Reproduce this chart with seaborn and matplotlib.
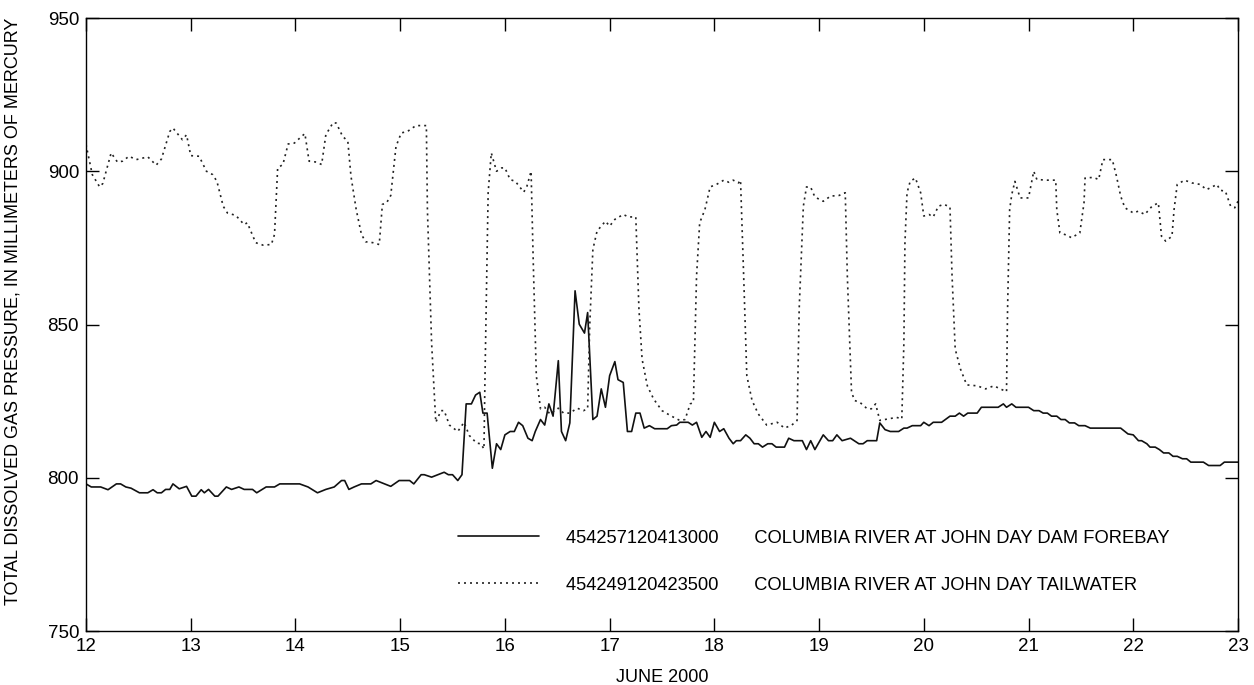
import pandas as pd
import numpy as np
import matplotlib
matplotlib.use("Agg")
import matplotlib.pyplot as plt
import seaborn as sns

# === Data (day of June 2000, pressure in mm Hg) ===
forebay_day = [12.00, 12.05, 12.14, 12.21, 12.29, 12.33, 12.38, 12.43, 12.51, 12.59,
               12.64, 12.68, 12.72, 12.76, 12.80, 12.83, 12.89, 12.96, 13.01, 13.05,
               13.10, 13.13, 13.17, 13.23, 13.26, 13.34, 13.39, 13.46, 13.51, 13.59,
               13.63, 13.72, 13.80, 13.85, 14.04, 14.12, 14.21, 14.29, 14.37, 14.44,
               14.47, 14.51, 14.56, 14.63, 14.72, 14.77, 14.85, 14.91, 14.99, 15.09,
               15.13, 15.20, 15.23, 15.30, 15.36, 15.42, 15.46, 15.50, 15.55, 15.59,
               15.63, 15.68, 15.72, 15.76, 15.79, 15.83, 15.88, 15.92, 15.96, 16.00,
               16.05, 16.09, 16.13, 16.17, 16.22, 16.26, 16.29, 16.34, 16.38, 16.42,
               16.46, 16.51, 16.54, 16.58, 16.62, 16.67, 16.71, 16.76, 16.79, 16.84,
               16.88, 16.92, 16.96, 17.00, 17.05, 17.08, 17.13, 17.17, 17.21, 17.25,
               17.29, 17.33, 17.38, 17.43, 17.55, 17.59, 17.64, 17.67, 17.75, 17.79,
               17.83, 17.88, 17.92, 17.96, 18.00, 18.05, 18.09, 18.14, 18.18, 18.21,
               18.25, 18.30, 18.34, 18.38, 18.42, 18.46, 18.51, 18.55, 18.59, 18.67,
               18.71, 18.76, 18.84, 18.88, 18.92, 18.96, 19.04, 19.09, 19.13, 19.17,
               19.22, 19.30, 19.38, 19.42, 19.46, 19.55, 19.58, 19.63, 19.68, 19.76,
               19.81, 19.84, 19.89, 19.97, 20.00, 20.05, 20.09, 20.17, 20.25, 20.30,
               20.34, 20.38, 20.42, 20.51, 20.55, 20.71, 20.76, 20.79, 20.84, 20.88,
               21.00, 21.05, 21.10, 21.14, 21.18, 21.22, 21.27, 21.31, 21.35, 21.39,
               21.44, 21.48, 21.54, 21.59, 21.88, 21.95, 22.00, 22.05, 22.08, 22.13,
               22.16, 22.21, 22.25, 22.29, 22.34, 22.38, 22.42, 22.47, 22.51, 22.55,
               22.67, 22.72, 22.83, 22.87, 23.00]
forebay_val = [798.0, 797.0, 797.0, 796.1, 798.0, 798.0, 797.0, 796.6, 795.1, 795.1,
               796.1, 795.1, 795.1, 796.2, 796.2, 798.0, 796.4, 797.2, 794.0, 794.0,
               796.1, 795.1, 796.2, 794.0, 794.0, 797.0, 796.2, 797.0, 796.2, 796.2,
               795.1, 797.0, 797.0, 798.0, 798.0, 797.0, 795.1, 796.2, 797.0, 799.1,
               799.1, 796.2, 797.0, 798.0, 798.0, 799.1, 798.0, 797.2, 799.1, 799.1,
               798.0, 801.0, 801.0, 800.2, 801.0, 801.8, 801.0, 801.0, 799.1, 801.0,
               824.1, 824.1, 827.0, 827.9, 821.1, 821.1, 803.1, 811.1, 809.2, 814.0,
               815.1, 815.1, 818.1, 817.0, 812.9, 812.1, 815.1, 819.0, 817.2, 824.1,
               820.1, 838.2, 815.1, 812.1, 817.9, 861.0, 850.1, 847.2, 853.9, 819.0,
               820.1, 829.0, 823.0, 833.3, 837.9, 832.0, 831.1, 815.1, 815.1, 821.1,
               821.1, 816.2, 817.0, 816.0, 816.0, 817.0, 817.2, 818.1, 818.1, 817.2,
               818.1, 813.2, 815.1, 813.2, 818.1, 815.1, 816.0, 812.9, 811.1, 812.1,
               812.1, 814.0, 812.9, 811.1, 811.1, 810.0, 811.1, 811.1, 810.0, 810.0,
               812.9, 812.1, 812.1, 809.2, 812.1, 809.2, 814.0, 812.1, 812.1, 814.0,
               812.1, 812.9, 811.1, 811.1, 812.1, 812.1, 817.9, 815.7, 815.1, 815.1,
               816.2, 816.2, 817.0, 817.0, 818.1, 817.0, 818.1, 818.1, 820.1, 820.1,
               821.1, 820.1, 821.1, 821.1, 823.0, 823.0, 824.1, 823.0, 824.1, 823.0,
               823.0, 821.9, 821.9, 821.1, 821.1, 820.1, 820.1, 819.0, 819.0, 817.9,
               817.9, 817.0, 817.0, 816.2, 816.2, 814.3, 814.0, 812.1, 812.1, 811.1,
               810.0, 810.0, 809.2, 808.1, 808.1, 807.0, 807.0, 806.2, 806.2, 805.1,
               805.1, 804.0, 804.0, 805.1, 805.1]

tailwater_day = [12.00, 12.06, 12.13, 12.16, 12.24, 12.30, 12.35, 12.41, 12.48, 12.59,
                 12.67, 12.72, 12.80, 12.83, 12.92, 12.96, 13.00, 13.08, 13.15, 13.21,
                 13.25, 13.31, 13.35, 13.43, 13.51, 13.54, 13.62, 13.69, 13.77, 13.80,
                 13.83, 13.88, 13.93, 13.99, 14.04, 14.09, 14.13, 14.20, 14.25, 14.29,
                 14.36, 14.39, 14.45, 14.50, 14.53, 14.58, 14.63, 14.67, 14.74, 14.80,
                 14.83, 14.87, 14.91, 14.96, 15.01, 15.07, 15.15, 15.25, 15.26, 15.30,
                 15.34, 15.39, 15.42, 15.47, 15.55, 15.61, 15.66, 15.73, 15.77, 15.80,
                 15.81, 15.84, 15.87, 15.92, 15.97, 16.00, 16.05, 16.10, 16.18, 16.21,
                 16.25, 16.27, 16.30, 16.34, 16.38, 16.43, 16.51, 16.56, 16.62, 16.69,
                 16.75, 16.79, 16.81, 16.84, 16.88, 16.96, 17.00, 17.05, 17.13, 17.18,
                 17.25, 17.28, 17.31, 17.36, 17.42, 17.50, 17.58, 17.67, 17.72, 17.77,
                 17.80, 17.83, 17.86, 17.91, 17.96, 18.02, 18.09, 18.14, 18.18, 18.23,
                 18.25, 18.28, 18.31, 18.36, 18.42, 18.50, 18.60, 18.67, 18.74, 18.79,
                 18.81, 18.85, 18.88, 18.92, 18.96, 19.04, 19.11, 19.19, 19.25, 19.27,
                 19.31, 19.34, 19.39, 19.46, 19.50, 19.54, 19.58, 19.66, 19.74, 19.79,
                 19.81, 19.82, 19.84, 19.87, 19.92, 19.97, 20.00, 20.05, 20.09, 20.14,
                 20.19, 20.25, 20.27, 20.30, 20.35, 20.41, 20.51, 20.59, 20.67, 20.73,
                 20.79, 20.80, 20.82, 20.84, 20.87, 20.92, 21.00, 21.05, 21.08, 21.18,
                 21.26, 21.27, 21.30, 21.37, 21.41, 21.49, 21.53, 21.54, 21.62, 21.67,
                 21.71, 21.80, 21.84, 21.88, 21.92, 22.00, 22.05, 22.11, 22.18, 22.24,
                 22.27, 22.31, 22.37, 22.39, 22.42, 22.49, 22.56, 22.64, 22.70, 22.80,
                 22.83, 22.88, 22.93, 22.97, 23.00]
tailwater_val = [908.7, 898.9, 894.9, 896.0, 906.0, 903.0, 903.3, 904.9, 903.8, 904.7,
                 902.0, 904.0, 913.0, 914.1, 910.3, 911.9, 905.1, 904.9, 900.0, 898.9,
                 896.7, 888.6, 886.4, 885.6, 882.6, 883.2, 876.7, 875.9, 876.1, 879.4,
                 901.1, 902.2, 908.9, 909.2, 910.8, 912.3, 903.3, 903.0, 902.2, 911.9,
                 915.9, 915.7, 911.4, 909.8, 898.4, 887.5, 879.4, 877.0, 876.7, 876.1,
                 889.2, 889.7, 892.1, 908.1, 912.5, 913.0, 914.9, 914.9, 887.5, 844.0,
                 818.1, 821.9, 821.9, 817.2, 815.1, 818.1, 813.8, 811.3, 811.1, 809.4,
                 833.3, 893.0, 906.0, 900.0, 901.1, 901.1, 897.3, 896.7, 893.2, 895.1,
                 900.0, 871.3, 833.3, 822.5, 823.0, 820.8, 822.7, 821.1, 821.1, 822.7,
                 821.9, 822.5, 849.6, 874.5, 880.5, 883.7, 882.1, 884.3, 885.9, 885.1,
                 885.1, 855.0, 838.7, 830.0, 825.7, 821.9, 820.3, 818.7, 819.0, 824.1,
                 824.6, 865.8, 883.2, 887.5, 894.9, 895.7, 897.1, 896.4, 897.1, 896.2,
                 897.1, 865.8, 833.3, 825.2, 820.8, 817.2, 818.1, 816.2, 817.2, 818.7,
                 855.0, 888.6, 894.9, 894.8, 891.6, 890.2, 891.9, 892.1, 893.0, 865.8,
                 827.9, 825.2, 824.6, 822.5, 822.5, 824.1, 818.7, 819.2, 819.7, 819.2,
                 844.1, 876.7, 893.0, 896.7, 897.8, 893.0, 885.4, 885.9, 885.1, 888.6,
                 889.2, 888.4, 865.8, 842.0, 835.5, 830.3, 830.0, 829.0, 830.0, 829.0,
                 828.1, 855.0, 887.5, 892.4, 896.7, 891.3, 891.3, 900.0, 897.3, 897.1,
                 897.1, 887.5, 879.9, 879.1, 878.3, 879.9, 889.7, 897.8, 898.0, 897.3,
                 903.8, 903.8, 898.4, 891.9, 888.1, 886.4, 887.0, 885.9, 888.6, 889.7,
                 878.8, 877.2, 878.8, 887.5, 895.7, 897.1, 896.2, 895.7, 894.0, 895.7,
                 893.8, 893.5, 888.6, 888.1, 890.2]

station_ids = ["454257120413000", "454249120423500"]
station_names = ["COLUMBIA RIVER AT JOHN DAY DAM FOREBAY",
                 "COLUMBIA RIVER AT JOHN DAY TAILWATER"]
x_ticks = list(range(12, 24))
y_ticks = [750, 800, 850, 900, 950]

# === Build table ===
gap = " " * 7
df = pd.concat([
    pd.DataFrame({"day": forebay_day, "pressure": forebay_val,
                  "station": f"{station_ids[0]}{gap}{station_names[0]}"}),
    pd.DataFrame({"day": tailwater_day, "pressure": tailwater_val,
                  "station": f"{station_ids[1]}{gap}{station_names[1]}"}),
], ignore_index=True)

sns.set_theme(style="ticks")
plt.rcParams["font.family"] = ["Liberation Sans", "DejaVu Sans"]
plt.rcParams["text.color"] = "black"
plt.rcParams["axes.labelcolor"] = "black"

fig = plt.figure(figsize=(12.54, 6.85), dpi=100)
ax = fig.add_axes([0.0686, 0.0788, 0.9186, 0.8949])

labels = df["station"].unique()
sns.lineplot(data=df, x="day", y="pressure", hue="station", style="station",
             palette={labels[0]: "#111111", labels[1]: "#222222"},
             dashes={labels[0]: "", labels[1]: (1.2, 2.4)},
             estimator=None, sort=False, linewidth=1.2, ax=ax)

ax.set_xlim(12, 23)
ax.set_ylim(750, 950)
ax.set_xticks(x_ticks)
ax.set_yticks(y_ticks)
ax.tick_params(direction="in", length=9.5, width=1.0, top=True, right=True,
               labelsize=13.5, colors="black", pad=5)
for s in ax.spines.values():
    s.set_visible(True)
    s.set_color("black")
    s.set_linewidth(1.0)

ax.set_xlabel("JUNE 2000", fontsize=13, labelpad=10)
ax.set_ylabel("TOTAL DISSOLVED GAS PRESSURE, IN MILLIMETERS OF MERCURY",
              fontsize=13)
ax.yaxis.set_label_coords(-0.056, 0.522)

# === Legend ===
leg = ax.legend(loc="center left", bbox_to_anchor=(0.323, 0.113), frameon=False,
                fontsize=13.2, handlelength=4.4, handletextpad=1.5,
                labelspacing=1.65, borderpad=0, borderaxespad=0)
for line in leg.get_lines():
    line.set_linewidth(1.2)

fig.savefig("out.png", dpi=100)
